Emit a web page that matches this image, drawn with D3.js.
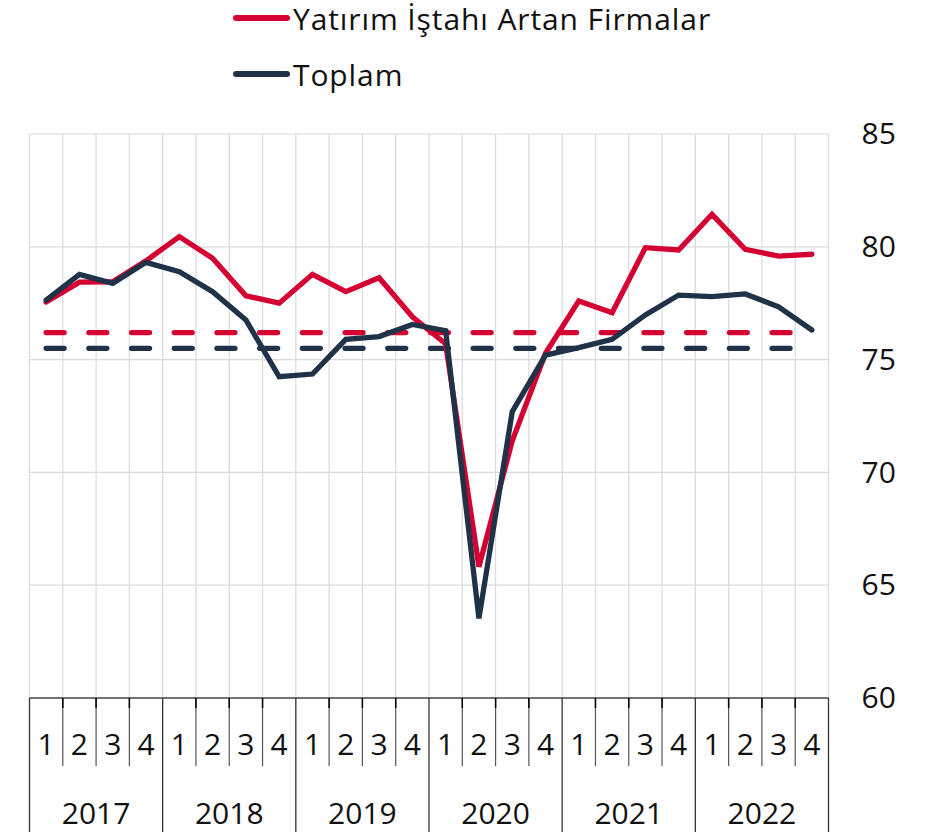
<!DOCTYPE html>
<html>
<head>
<meta charset="utf-8">
<script src="https://cdn.jsdelivr.net/npm/d3@7"></script>
<style>
  html, body { margin: 0; padding: 0; background: #fff; }
  svg { display: block; font-family: "Open Sans", "Noto Sans", sans-serif; }
</style>
</head>
<body>
<svg id="chart" width="940" height="832"></svg>
<script>
const years = ["2017", "2018", "2019", "2020", "2021", "2022"];
const quarters = ["1", "2", "3", "4"];
const seriesNames = ["Yatırım İştahı Artan Firmalar", "Toplam"];
const seriesColors = ["#d50032", "#1f3248"];
const yatirim = [77.55, 78.43, 78.45, 79.38, 80.45, 79.49, 77.83, 77.5,
                 78.78, 78.01, 78.63, 76.9, 75.7, 65.82, 71.4, 75.28,
                 77.6, 77.08, 79.96, 79.86, 81.44, 79.89, 79.59, 79.67];
const toplam = [77.64, 78.78, 78.38, 79.31, 78.9, 78.01, 76.76, 74.24,
                74.36, 75.9, 76.02, 76.56, 76.28, 63.53, 72.69, 75.2,
                75.53, 75.9, 76.98, 77.86, 77.79, 77.91, 77.34, 76.31];
const averages = [76.2, 75.5];
const yTicks = [60, 65, 70, 75, 80, 85];

(function () {
const svg = d3.select("#chart");
const pLeft = 29.5, pRight = 828.5, pTop = 134, pBottom = 698;

const periods = [];
years.forEach(yr => quarters.forEach(q => periods.push(yr + "-" + q)));

const x = d3.scaleBand().domain(periods).range([pLeft, pRight]).padding(0);
const y = d3.scaleLinear().domain([60, 85]).range([pBottom, pTop]);
const cx = p => x(p) + x.bandwidth() / 2;

// horizontal gridlines
svg.append("g").selectAll("line").data(yTicks.filter(t => t > 60)).join("line")
  .attr("x1", pLeft).attr("x2", pRight)
  .attr("y1", d => y(d)).attr("y2", d => y(d))
  .attr("stroke", "#dadada").attr("stroke-width", 1.2);

// vertical gridlines
const bounds = periods.map(p => x(p)).concat([pRight]);
svg.append("g").selectAll("line").data(bounds).join("line")
  .attr("x1", d => d).attr("x2", d => d)
  .attr("y1", pTop).attr("y2", pBottom)
  .attr("stroke", "#dadada").attr("stroke-width", 1.2);

// right axis labels
const yAxis = d3.axisRight(y).tickValues(yTicks).tickSize(0).tickPadding(33);
const ya = svg.append("g").attr("transform", `translate(${pRight},0)`).call(yAxis);
ya.select(".domain").remove();
ya.selectAll("text").attr("font-size", 30).attr("fill", "#111")
  .attr("font-family", "'Open Sans', sans-serif");

// average dashed lines
const lineGen = d3.line().x(d => cx(d.p)).y(d => y(d.v));
averages.forEach((a, i) => {
  svg.append("path")
    .datum(periods.map(p => ({ p, v: a })))
    .attr("d", lineGen)
    .attr("fill", "none").attr("stroke", seriesColors[i])
    .attr("stroke-width", 5.3).attr("stroke-linecap", "round")
    .attr("stroke-dasharray", "18,24.7");
});

// series lines
[yatirim, toplam].forEach((vals, i) => {
  svg.append("path")
    .datum(vals.map((v, k) => ({ p: periods[k], v })))
    .attr("d", lineGen)
    .attr("fill", "none").attr("stroke", seriesColors[i])
    .attr("stroke-width", 5.3).attr("stroke-linejoin", "miter")
    .attr("stroke-linecap", "round");
});

// bottom axis line
svg.append("line").attr("x1", pLeft).attr("x2", pRight)
  .attr("y1", pBottom).attr("y2", pBottom)
  .attr("stroke", "#444").attr("stroke-width", 1.5);

// quarter separators
const qSep = periods.filter((p, i) => i % 4 !== 0).map(p => x(p));
svg.append("g").selectAll("line").data(qSep).join("line")
  .attr("x1", d => d).attr("x2", d => d)
  .attr("y1", pBottom).attr("y2", 766)
  .attr("stroke", "#555").attr("stroke-width", 1.2);
svg.append("g").selectAll("line").data(qSep).join("line")
  .attr("x1", d => d).attr("x2", d => d)
  .attr("y1", pBottom).attr("y2", pBottom + 10)
  .attr("stroke", "#000").attr("stroke-width", 1.5);

// year separators
const ySep = periods.filter((p, i) => i % 4 === 0).map(p => x(p)).concat([pRight]);
svg.append("g").selectAll("line").data(ySep).join("line")
  .attr("x1", d => d).attr("x2", d => d)
  .attr("y1", pBottom).attr("y2", 832)
  .attr("stroke", "#333").attr("stroke-width", 1.3);

// quarter labels
svg.append("g").selectAll("text").data(periods).join("text")
  .attr("x", d => cx(d)).attr("y", 755)
  .attr("text-anchor", "middle").attr("font-size", 30).attr("fill", "#111")
  .text(d => d.split("-")[1]);

// year labels
svg.append("g").selectAll("text").data(years).join("text")
  .attr("x", d => (x(d + "-1") + x(d + "-4") + x.bandwidth()) / 2).attr("y", 824)
  .attr("text-anchor", "middle").attr("font-size", 30).attr("fill", "#111")
  .text(d => d);

// legend
const legend = svg.append("g");
seriesNames.forEach((name, i) => {
  const ly = 18 + i * 56;
  legend.append("line").attr("x1", 236).attr("x2", 287)
    .attr("y1", ly).attr("y2", ly)
    .attr("stroke", seriesColors[i]).attr("stroke-width", 6)
    .attr("stroke-linecap", "round");
  legend.append("text").attr("x", 293).attr("y", ly + 12)
    .attr("font-size", 30).attr("letter-spacing", 0.9)
    .attr("fill", "#111").text(name);
});
})();
</script>
</body>
</html>
